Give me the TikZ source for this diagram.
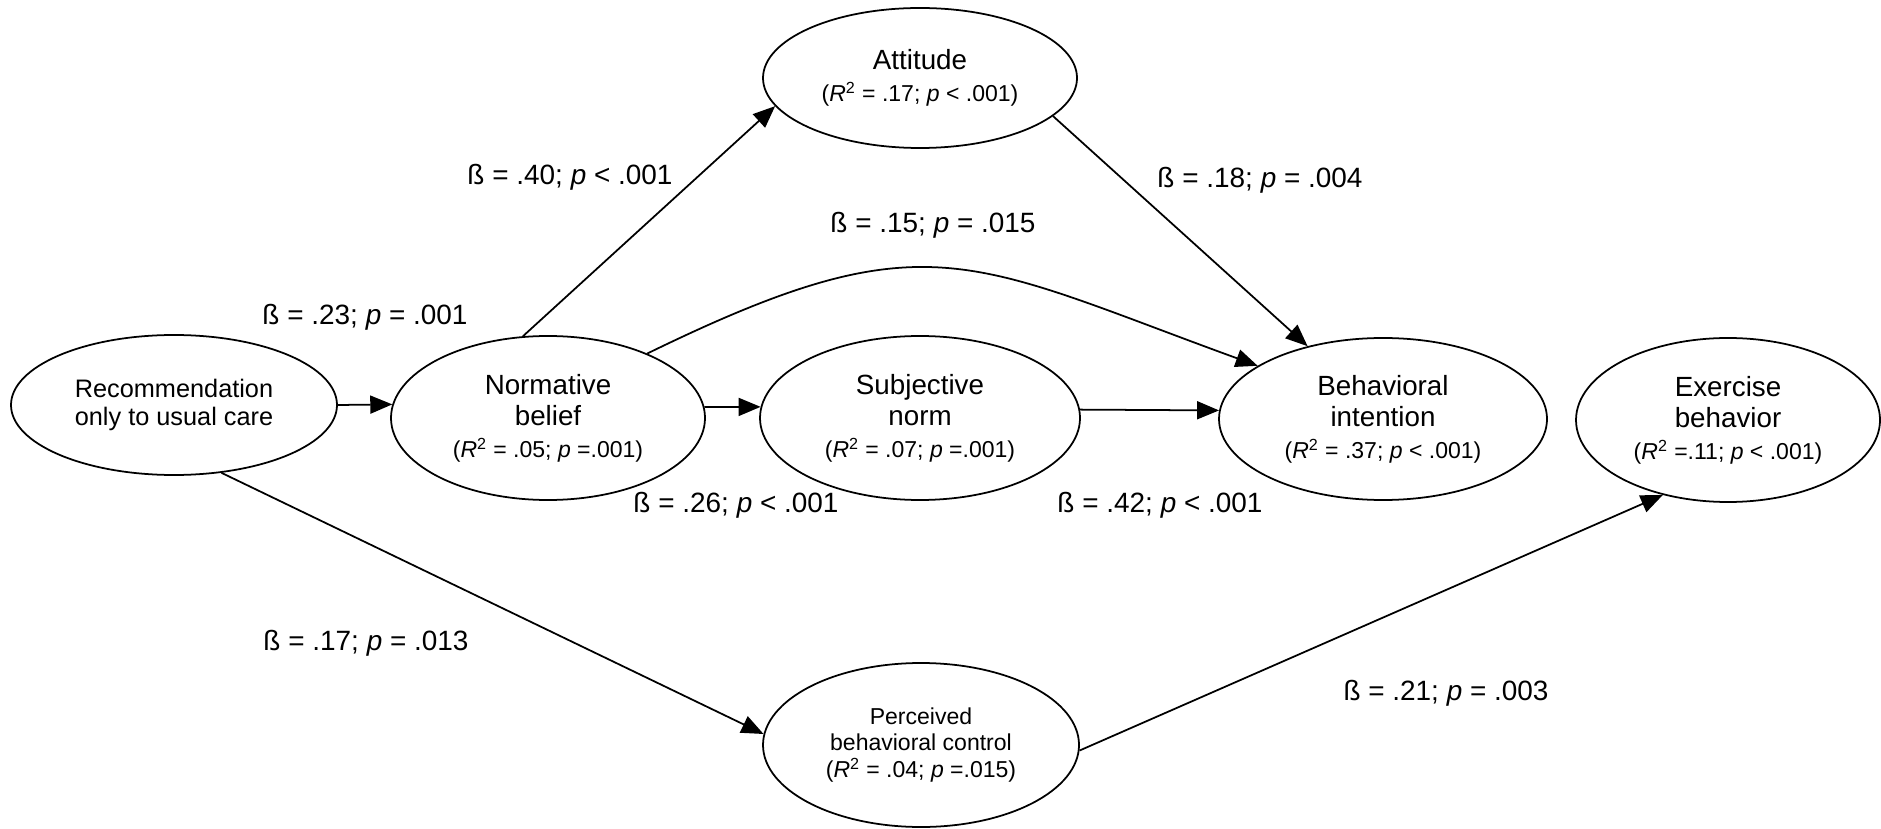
\documentclass[tikz,border=0pt]{standalone}
\usepackage{fontspec}
\setmainfont{Liberation Sans}
\usetikzlibrary{arrows.meta,shapes.geometric}
\newcommand{\rsqfont}{\fontsize{13.1}{15}\selectfont}
\tikzset{
  elipse/.style={ellipse, draw, line width=1pt, inner sep=0pt, align=center,
                 font=\fontsize{15.8}{18}\selectfont},
  elipsemenor/.style={elipse, font=\fontsize{13.1}{15}\selectfont},
  seta/.style={-{Triangle[length=4.4mm, width=3.6mm]}, line width=1pt},
  coef/.style={font=\fontsize{15.9}{18}\selectfont, inner sep=0pt},
}
\begin{document}
\begin{tikzpicture}
  \useasboundingbox (0,0) rectangle (37.62,-16.58);

  % construtos
  \node[elipse, minimum width=6.52cm, minimum height=2.80cm, font=\fontsize{14.4}{16}\selectfont]
    (rec) at (3.48,-8.10) {Recommendation\\only to usual care};
  \node[elipse, minimum width=6.28cm, minimum height=3.28cm] (norm) at (10.96,-8.36)
    {Normative\\belief\\{\rsqfont (\textit{R}\textsuperscript{2} = .05; \textit{p} =.001)}};
  \node[elipse, minimum width=6.40cm, minimum height=3.28cm] (subj) at (18.40,-8.36)
    {Subjective\\norm\\{\rsqfont (\textit{R}\textsuperscript{2} = .07; \textit{p} =.001)}};
  \node[elipse, minimum width=6.28cm, minimum height=2.80cm] (att) at (18.40,-1.56)
    {Attitude\\{\rsqfont (\textit{R}\textsuperscript{2} = .17; \textit{p} < .001)}};
  \node[elipse, minimum width=6.56cm, minimum height=3.24cm] (beh) at (27.66,-8.38)
    {Behavioral\\intention\\{\rsqfont (\textit{R}\textsuperscript{2} = .37; \textit{p} < .001)}};
  \node[elipse, minimum width=6.08cm, minimum height=3.28cm] (exer) at (34.56,-8.40)
    {Exercise\\behavior\\{\rsqfont (\textit{R}\textsuperscript{2} =.11; \textit{p} < .001)}};
  \node[elipsemenor, minimum width=6.32cm, minimum height=3.28cm] (pbc) at (18.42,-14.90)
    {Perceived\\behavioral control\\(\textit{R}\textsuperscript{2} = .04; \textit{p} =.015)};

  % caminhos
  \draw[seta] (rec.east) -- (norm.175);
  \draw[seta] (norm.4) -- (subj.176);
  \draw[seta] (subj.3) -- (beh.177);
  \draw[seta] (norm.107) -- (att.191);
  \draw[seta] (att.344) -- (beh.136);
  \draw[seta] (norm.33) to[out=26, in=160, looseness=1.3] (beh.157);
  \draw[seta] (rec.305) -- (pbc.176);
  \draw[seta] (pbc.358) -- (exer.229);

  % coeficientes
  \node[coef] (c40) at (11.40,-3.54)  {ß = .40; \textit{p} < .001};
  \node[coef] (c18) at (25.20,-3.60)  {ß = .18; \textit{p} = .004};
  \node[coef] (c15) at (18.66,-4.50)  {ß = .15; \textit{p} = .015};
  \node[coef] (c23) at (7.30,-6.34)   {ß = .23; \textit{p} = .001};
  \node[coef] (c26) at (14.72,-10.10) {ß = .26; \textit{p} < .001};
  \node[coef] (c42) at (23.20,-10.10) {ß = .42; \textit{p} < .001};
  \node[coef] (c17) at (7.32,-12.86)  {ß = .17; \textit{p} = .013};
  \node[coef] (c21) at (28.92,-13.86) {ß = .21; \textit{p} = .003};
\end{tikzpicture}
\end{document}
